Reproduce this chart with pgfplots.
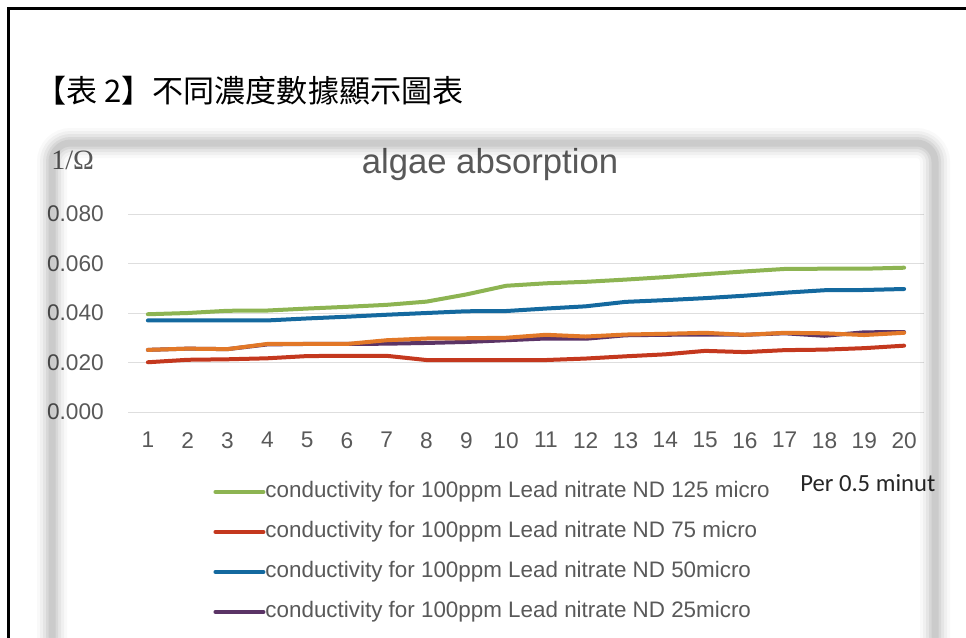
\documentclass[border=0pt]{standalone}
\usepackage{fontspec}
\setmainfont{Liberation Sans}
\newfontfamily\cjk{Noto Sans CJK TC}
\newfontfamily\calib{Carlito}
\newfontfamily\serifx{Liberation Serif}
\usepackage{pgfplots}
\usepackage{pgfplotstable}
\pgfplotsset{compat=1.18}
\definecolor{txt}{HTML}{595959}
\definecolor{cgreen}{HTML}{8DB452}
\definecolor{cred}{HTML}{C4381E}
\definecolor{cblue}{HTML}{14699F}
\definecolor{cpurple}{HTML}{5B3466}
\definecolor{corange}{HTML}{E27828}
\pgfplotstableread{
t green red blue purple orange
1 0.0395 0.0201 0.0370 0.0251 0.0251
2 0.0400 0.0211 0.0370 0.0256 0.0256
3 0.0409 0.0213 0.0370 0.0254 0.0254
4 0.0410 0.0217 0.0370 0.0273 0.0275
5 0.0418 0.0226 0.0378 0.0275 0.0275
6 0.0425 0.0227 0.0385 0.0275 0.0275
7 0.0433 0.0227 0.0393 0.0276 0.0290
8 0.0446 0.0210 0.0400 0.0279 0.0297
9 0.0475 0.0210 0.0407 0.0283 0.0298
10 0.0510 0.0210 0.0408 0.0290 0.0300
11 0.0520 0.0210 0.0418 0.0297 0.0312
12 0.0526 0.0216 0.0427 0.0296 0.0305
13 0.0535 0.0225 0.0445 0.0310 0.0313
14 0.0545 0.0233 0.0452 0.0312 0.0316
15 0.0557 0.0247 0.0460 0.0313 0.0320
16 0.0568 0.0242 0.0470 0.0312 0.0312
17 0.0578 0.0250 0.0482 0.0318 0.0320
18 0.0579 0.0252 0.0492 0.0308 0.0318
19 0.0579 0.0258 0.0493 0.0322 0.0311
20 0.0583 0.0268 0.0497 0.0323 0.0320
}\data
\begin{document}
\begin{tikzpicture}[x=0.75pt,y=0.75pt]
\path[use as bounding box] (0,0) rectangle (966,637);
\fill[white] (0,0) rectangle (966,637);
% document title
\node[anchor=west, inner sep=0pt, font=\cjk\fontsize{23.3}{23.3}\selectfont] at (35,546) {【表 2】不同濃度數據顯示圖表};
% chart title and y unit
\node[anchor=center, inner sep=0pt, text=txt, font=\fontsize{26}{26}\selectfont] at (490,472) {algae absorption};
\node[anchor=west, inner sep=0pt, text=txt, font=\serifx\fontsize{21}{21}\selectfont] at (51,477) {1/Ω};
\node[anchor=west, inner sep=0pt, text=black!85, font=\calib\fontsize{18.5}{18.5}\selectfont] at (800,154) {Per 0.5 minut};
\begin{axis}[
  at={(96pt,168.75pt)}, anchor=south west, scale only axis,
  width=597pt, height=148.5pt,
  xmin=0.5, xmax=20.5, ymin=0, ymax=0.08,
  xtick={1,...,20}, ytick={0,0.02,0.04,0.06,0.08},
  scaled ticks=false,
  axis line style={draw=none}, tick style={draw=none},
  ymajorgrids, grid style={draw=black!13, line width=0.75pt},
  /pgf/number format/assume math mode=true,
  yticklabel={\pgfmathprintnumber[fixed,fixed zerofill,precision=3]{\tick}},
  ticklabel style={text=txt, font=\fontsize{17}{17}\selectfont, inner sep=0pt},
  yticklabel shift=18pt, xticklabel shift=15pt,
  legend style={at={(axis description cs:0.102,-0.335)}, anchor=north west,
    draw=none, fill=none, text=txt, font=\fontsize{16.8}{16.8}\selectfont,
    nodes={inner sep=0pt, text height=12pt, text depth=4pt}, row sep=14pt},
  legend cell align=left,
  legend image code/.code={\draw[#1, line width=3pt] (0pt,0pt) -- (36pt,0pt);},
  every axis plot/.append style={line width=3pt, line join=round, line cap=round},
]
\addplot[cgreen] table[x=t, y=green] {\data};
\addlegendentry{conductivity for 100ppm Lead nitrate ND 125 micro}
\addplot[cred] table[x=t, y=red] {\data};
\addlegendentry{conductivity for 100ppm Lead nitrate ND 75 micro}
\addplot[cblue] table[x=t, y=blue] {\data};
\addlegendentry{conductivity for 100ppm Lead nitrate ND 50micro}
\addplot[cpurple] table[x=t, y=purple] {\data};
\addlegendentry{conductivity for 100ppm Lead nitrate ND 25micro}
\addplot[corange, forget plot] table[x=t, y=orange] {\data};
\end{axis}
% shadow border of the pasted chart
\foreach \w/\o in {30/0.025, 24/0.035, 18/0.045, 12/0.055, 7/0.06}
  \draw[black, opacity=\o, line width=\w*0.75pt, rounded corners=14pt]
    (52,-40) -- (52,494) -- (935,494) -- (935,-40);
% outer frame
\draw[black, line width=2.25pt] (8.5,-10) -- (8.5,628.5) -- (980,628.5);
\end{tikzpicture}
\end{document}
